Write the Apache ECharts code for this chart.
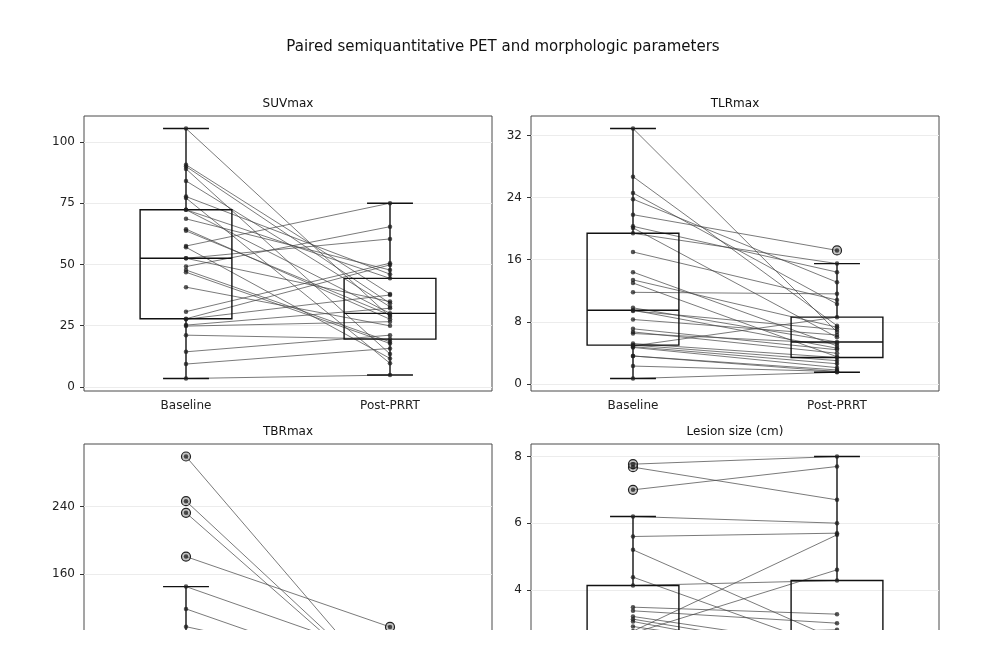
<!DOCTYPE html>
<html>
<head>
<meta charset="utf-8">
<script src="https://cdn.jsdelivr.net/npm/echarts@6/dist/echarts.min.js"></script>
<style>
html, body { margin: 0; padding: 0; background: #fff; }
#chart { width: 1007px; height: 630px; }
</style>
</head>
<body>
<div id="chart"></div>
<script>
// paired values, index i = same lesion at baseline and after PRRT
const categories = ['Baseline', 'Post-PRRT'];
const panelTitles = ['SUVmax', 'TLRmax', 'TBRmax', 'Lesion size (cm)'];

const suvBaseline = [105.5, 90.7, 90.0, 89.0, 84.1, 77.7, 77.1, 72.3, 72.3, 68.6, 64.4, 63.7, 57.5, 57.0, 52.5,
    52.5, 49.1, 47.7, 46.8, 40.7, 30.7, 27.8, 27.6, 25.2, 24.8, 21.1, 14.3, 9.3, 3.4];
const suvPost = [28.6, 37.9, 34.1, 13.4, 32.7, 46.0, 9.6, 44.3, 30.0, 47.7, 27.6, 29.3, 75.0, 11.6, 60.4,
    34.8, 65.4, 18.4, 17.7, 24.9, 50.5, 49.8, 37.5, 32.1, 26.6, 19.5, 21.1, 15.7, 4.8];

const tlrBaseline = [32.9, 26.7, 24.6, 23.8, 21.8, 20.3, 20.1, 19.4, 17.0, 14.4, 13.4, 13.0, 11.8, 9.8, 9.5,
    9.4, 8.3, 7.1, 6.7, 6.5, 5.2, 5.0, 4.9, 4.8, 4.7, 3.6, 3.6, 2.3, 0.7];
const tlrPost = [6.7, 7.5, 10.3, 13.1, 17.2, 14.4, 6.0, 15.5, 10.8, 4.9, 7.3, 3.5, 11.6, 5.4, 4.6,
    7.0, 6.3, 4.4, 3.95, 5.2, 3.4, 3.0, 8.6, 2.6, 2.1, 1.8, 1.6, 1.6, 1.5];

const tbrBaseline = [299.4, 246.4, 232.5, 180.5, 144.9, 118.4, 97.3, 80, 68, 60, 55, 50, 45, 40, 36,
    33, 30, 27, 25, 22, 20, 18, 15, 13, 11, 9, 7, 5, 3.2];
const tbrPost = [17, 21, 20, 97, 60, 34, 45, 30, 28, 25, 22, 18, 21, 16, 15,
    14, 13, 12, 11, 10, 9, 8, 7, 6, 5, 5, 4, 3, 2.5];

const lesionBaseline = [7.77, 7.68, 7.0, 6.2, 5.6, 5.2, 4.38, 4.13, 3.48, 3.37, 3.2, 3.12, 3.05, 2.9, 2.76,
    2.74, 2.7, 2.68, 2.65, 2.6, 2.55, 2.5, 2.3, 2.0, 1.8, 1.5, 1.2, 0.9, 0.5];
const lesionPost = [8.0, 6.7, 7.7, 6.0, 5.7, 2.5, 2.2, 4.28, 3.27, 3.0, 2.3, 2.1, 1.9, 2.0, 5.65,
    1.8, 4.6, 2.6, 2.8, 1.7, 1.6, 2.4, 1.4, 1.3, 1.2, 1.0, 0.9, 0.8, 0.6];

const suvTicks = [0, 25, 50, 75, 100];
const tlrTicks = [0, 8, 16, 24, 32];
const tbrTicks = [0, 80, 160, 240];
const lesionTicks = [2, 4, 6, 8];

const panels = [
    { title: panelTitles[0], base: suvBaseline, post: suvPost, ticks: suvTicks },
    { title: panelTitles[1], base: tlrBaseline, post: tlrPost, ticks: tlrTicks },
    { title: panelTitles[2], base: tbrBaseline, post: tbrPost, ticks: tbrTicks },
    { title: panelTitles[3], base: lesionBaseline, post: lesionPost, ticks: lesionTicks }
];

const gridPos = [
    { left: 84, top: 116 },
    { left: 531, top: 116 },
    { left: 84, top: 444 },
    { left: 531, top: 444 }
];

const FONT = 'DejaVu Sans';

function quantile(s, q) {
    const pos = (s.length - 1) * q;
    const lo = Math.floor(pos), hi = Math.ceil(pos);
    return s[lo] + (s[hi] - s[lo]) * (pos - lo);
}

// matplotlib-like box stats (whiskers at 1.5 IQR)
function boxStats(values) {
    const s = values.slice().sort((a, b) => a - b);
    const q1 = quantile(s, 0.25), med = quantile(s, 0.5), q3 = quantile(s, 0.75);
    const iqr = q3 - q1;
    const inside = s.filter(v => v >= q1 - 1.5 * iqr && v <= q3 + 1.5 * iqr);
    const lo = inside[0], hi = inside[inside.length - 1];
    return { q1, med, q3, lo, hi, fliers: s.filter(v => v < lo || v > hi) };
}

function renderBox(params, api) {
    const x = api.value(0);
    const band = api.size([1, 0])[0];
    const half = band * 0.225, capHalf = band * 0.1125;
    const p = v => api.coord([x, v]);
    const cx = p(api.value(3))[0];
    const yLo = p(api.value(1))[1], yQ1 = p(api.value(2))[1], yMed = p(api.value(3))[1],
        yQ3 = p(api.value(4))[1], yHi = p(api.value(5))[1];
    const st = { stroke: '#111', lineWidth: 1.4, fill: null };
    const line = (x1, y1, x2, y2) => ({ type: 'line', shape: { x1, y1, x2, y2 }, style: st });
    return {
        type: 'group',
        children: [
            { type: 'rect', shape: { x: cx - half, y: yQ3, width: half * 2, height: yQ1 - yQ3 }, style: st },
            line(cx - half, yMed, cx + half, yMed),
            line(cx, yQ3, cx, yHi),
            line(cx, yQ1, cx, yLo),
            line(cx - capHalf, yHi, cx + capHalf, yHi),
            line(cx - capHalf, yLo, cx + capHalf, yLo)
        ]
    };
}

function renderPair(params, api) {
    const a = api.coord([0, api.value(1)]);
    const b = api.coord([1, api.value(3)]);
    return {
        type: 'line',
        shape: { x1: a[0], y1: a[1], x2: b[0], y2: b[1] },
        style: { stroke: 'rgba(70,70,70,0.72)', lineWidth: 1 }
    };
}

const option = {
    backgroundColor: '#fff',
    animation: false,
    title: [{
        text: 'Paired semiquantitative PET and morphologic parameters',
        left: 503, top: 40, textAlign: 'center', padding: 0,
        textStyle: { fontFamily: FONT, fontSize: 15, fontWeight: 'normal', color: '#111' }
    }],
    grid: [], xAxis: [], yAxis: [], series: []
};

panels.forEach((pn, i) => {
    const all = pn.base.concat(pn.post);
    const dmin = Math.min(...all), dmax = Math.max(...all);
    const pad = (dmax - dmin) * 0.05;
    const g = gridPos[i];

    option.title.push({
        text: pn.title, left: g.left + 204, top: g.top - 18, textAlign: 'center', padding: 0,
        textStyle: { fontFamily: FONT, fontSize: 12, fontWeight: 'normal', color: '#111' }
    });
    option.grid.push({
        left: g.left, top: g.top, width: 408, height: 275,
        outerBoundsMode: 'none', containLabel: false,
        show: true, borderColor: '#4a4a4a', borderWidth: 1, backgroundColor: '#fff'
    });
    option.xAxis.push({
        type: 'category', gridIndex: i, data: categories, boundaryGap: true,
        axisLine: { show: false },
        axisTick: { alignWithLabel: true, length: 4, lineStyle: { color: '#333' } },
        axisLabel: { fontFamily: FONT, fontSize: 12, color: '#222', margin: 9 },
        splitLine: { show: false }
    });
    option.yAxis.push({
        type: 'value', gridIndex: i, min: dmin - pad, max: dmax + pad,
        axisLine: { show: false },
        axisTick: { show: true, length: 4, customValues: pn.ticks, lineStyle: { color: '#333' } },
        axisLabel: { fontFamily: FONT, fontSize: 12, color: '#222', margin: 9, customValues: pn.ticks },
        splitLine: { show: true, lineStyle: { color: '#ececec', width: 1 } }
    });

    const pairs = pn.base.map((b, k) => [0, b, 1, pn.post[k]]);
    option.series.push({
        type: 'custom', xAxisIndex: i, yAxisIndex: i, z: 2, silent: true,
        encode: { x: [0, 2], y: [1, 3] },
        renderItem: renderPair, data: pairs
    });

    const sb = boxStats(pn.base), sp = boxStats(pn.post);
    option.series.push({
        type: 'custom', xAxisIndex: i, yAxisIndex: i, z: 3, silent: true,
        encode: { x: 0, y: [1, 2, 3, 4, 5] },
        renderItem: renderBox,
        data: [[0, sb.lo, sb.q1, sb.med, sb.q3, sb.hi], [1, sp.lo, sp.q1, sp.med, sp.q3, sp.hi]]
    });

    const fliers = sb.fliers.map(v => [0, v]).concat(sp.fliers.map(v => [1, v]));
    option.series.push({
        type: 'scatter', xAxisIndex: i, yAxisIndex: i, z: 4, silent: true,
        symbol: 'circle', symbolSize: 9,
        itemStyle: { color: 'rgba(150,150,150,0.55)', borderColor: '#222', borderWidth: 1.2, opacity: 1 },
        data: fliers
    });

    const dots = pn.base.map(v => [0, v]).concat(pn.post.map(v => [1, v]));
    option.series.push({
        type: 'scatter', xAxisIndex: i, yAxisIndex: i, z: 5, silent: true,
        symbol: 'circle', symbolSize: 4.5,
        itemStyle: { color: 'rgba(30,30,30,0.75)', opacity: 1 },
        data: dots
    });
});

const chart = echarts.init(document.getElementById('chart'));
chart.setOption(option);
</script>
</body>
</html>
